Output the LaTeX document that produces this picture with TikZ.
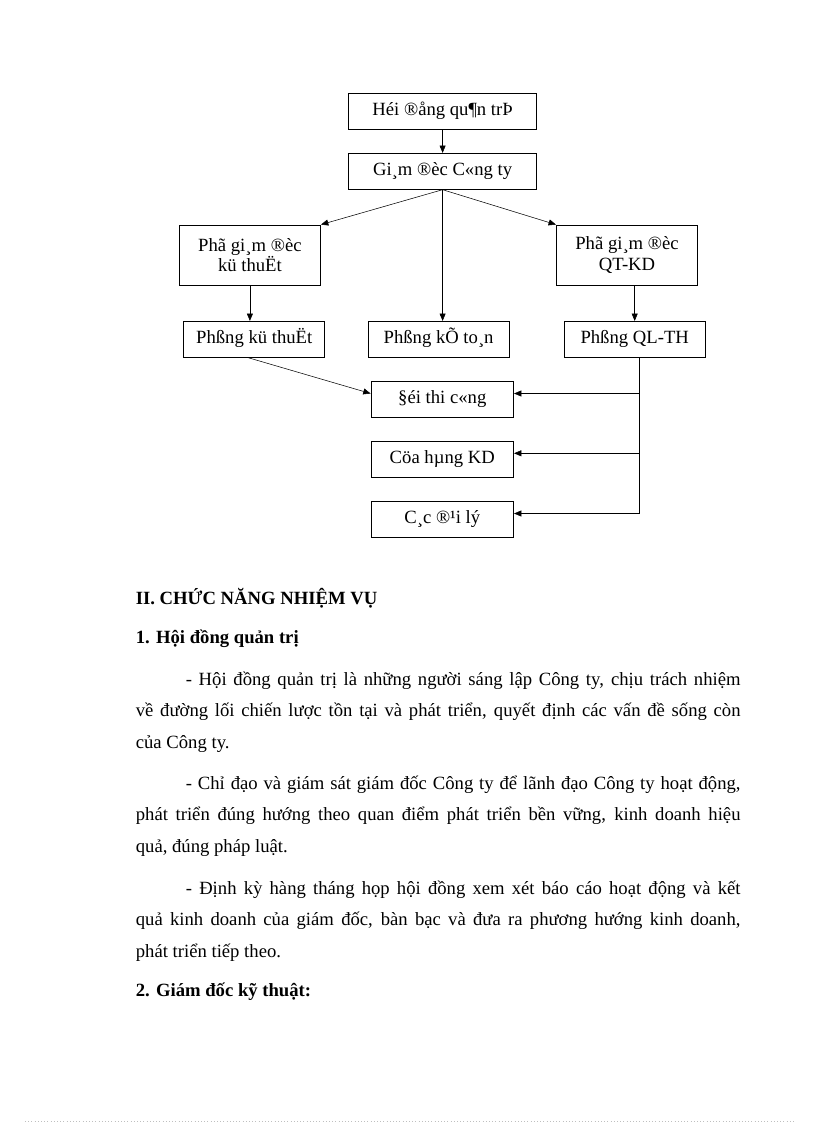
\documentclass[tikz,border=0pt]{standalone}
\usepackage{fontspec}
\setmainfont{Liberation Serif}
\usetikzlibrary{positioning}
\usetikzlibrary{arrows.meta}
\tikzset{>={Triangle[length=5.5pt,width=4.5pt]}}
\tikzset{
  box/.style={draw, line width=0.6pt, minimum width=106pt, minimum height=27pt, inner sep=2pt,
    text height=9.8pt, text depth=3.2pt, align=center, font=\fontsize{14pt}{15.5pt}\selectfont},
  bigbox/.style={box, minimum width=141.4pt},
  tallbox/.style={box, minimum height=45pt, text height=, text depth=},
  head/.style={anchor=base west, inner sep=0pt, font=\fontsize{14pt}{17pt}\selectfont\bfseries},
  para/.style={anchor=base west, inner sep=0pt, text width=453.5pt, align=justify,
    font=\fontsize{14pt}{23.7pt}\selectfont}
}

\begin{document}
\begin{tikzpicture}[x=0.75pt,y=-0.75pt]
        \useasboundingbox (0,0) rectangle (816,1123);
        % so do to chuc
        \node[bigbox] (hdqt) at (442.6,111.3) {Héi ®ång qu¶n trÞ};
        \node[bigbox] (gd) at (442.6,171.3) {Gi¸m ®èc C«ng ty};
        \node[tallbox] (pgdkt) at (249.9,255) {Phã gi¸m ®èc\\kü thuËt};
        \node[tallbox] (pgdqt) at (627,255) {Phã gi¸m ®èc\\QT-KD};
        \node[box] (pkt) at (254.2,339.3) {Phßng kü thuËt};
        \node[box] (pkto) at (438.6,339.3) {Phßng kÕ to¸n};
        \node[box] (pql) at (634.7,339.3) {Phßng QL-TH};
        \node[box, minimum width=107pt] (dtc) at (442.3,399.5) {§éi thi  c«ng};
        \node[box, minimum width=107pt] (chkd) at (442.3,459.3) {Cöa hµng KD};
        \node[box, minimum width=107pt] (cdl) at (442.3,519.5) {C¸c ®¹i lý};
        \draw[->] (hdqt) -- (gd);
        \draw[->] (gd.south) -- (pgdkt.north east);
        \draw[->] (gd.south) -- (pgdqt.north west);
        \draw[->] (gd.south) -- (gd.south |- pkto.north);
        \draw[->] (pgdkt.south) -- (pgdkt.south |- pkt.north);
        \draw[->] (pql.north |- pgdqt.south) -- (pql.north);
        \draw[->] ([xshift=-4.5pt]pkt.south) -- ([yshift=4.5pt]dtc.west);
        \coordinate (bus) at ([xshift=3.4pt]pql.south);
        \foreach \b in {dtc,chkd,cdl}
          \draw[->] (bus) |- ([yshift=4.5pt]\b.east);
        % van ban
        \node[head] (h2) at (135.6,604) {II. CHỨC NĂNG NHIỆM VỤ};
        \node[head] (h21) at (135.6,643.3) {1. Hội đồng quản trị};
        \node[para] (p1) at (135.6,685) {\hspace*{37.5pt}- Hội đồng quản trị là những người sáng lập Công ty, chịu trách nhiệm\linebreak
          về đường lối chiến lược tồn tại và phát triển, quyết định các vấn đề sống còn\linebreak
          của Công ty.};
        \node[para] (p2) at (135.6,789.3) {\hspace*{37.5pt}- Chỉ đạo và giám sát giám đốc Công ty để lãnh đạo Công ty hoạt động,\linebreak
          phát triển đúng hướng theo quan điểm phát triển bền vững, kinh doanh hiệu\linebreak
          quả, đúng pháp luật.};
        \node[para] (p3) at (135.6,894) {\hspace*{37.5pt}- Định kỳ hàng tháng họp hội đồng xem xét báo cáo hoạt động và kết\linebreak
          quả kinh doanh của giám đốc, bàn bạc và đưa ra phương hướng kinh doanh,\linebreak
          phát triển tiếp theo.};
        \node[head] (h22) at (135.6,996.7) {2. Giám đốc kỹ thuật:};
        \draw[black!25, dotted] (25,1121) -- (796,1121);
    \end{tikzpicture}
\end{document}
